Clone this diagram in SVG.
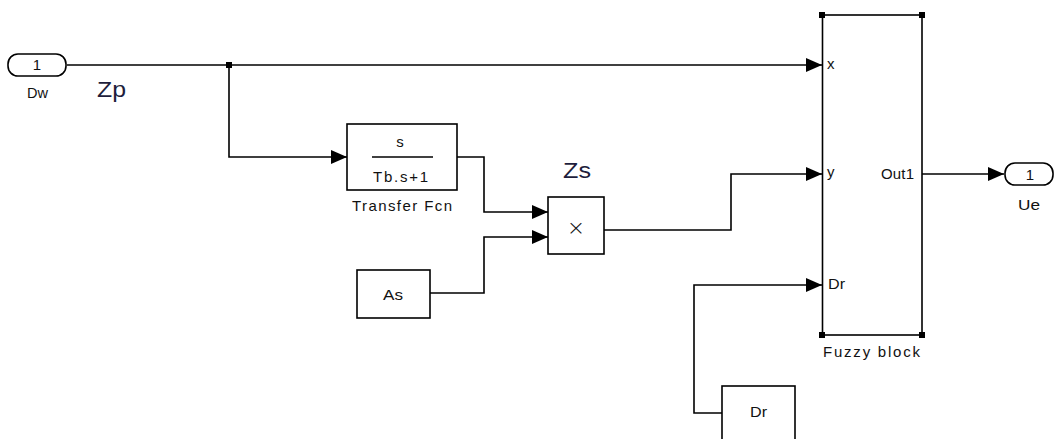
<svg xmlns="http://www.w3.org/2000/svg" width="1055" height="439" viewBox="0 0 1055 439">
<style>
.blk{fill:#fff;stroke:#000;stroke-width:1.6}
.ln{fill:none;stroke:#000;stroke-width:1.6}
.t{font-family:"Liberation Sans",Arial,sans-serif;font-size:15px;fill:#111}
.big{font-family:"Liberation Sans",Arial,sans-serif;font-size:22px;fill:#1e1e3c}
.h{fill:#000}
</style>
<defs>
<marker id="ah" markerUnits="userSpaceOnUse" markerWidth="16" markerHeight="14" viewBox="0 0 16 14" refX="16" refY="7" orient="auto">
<path d="M0,0 L16,7 L0,14 Z" fill="#000"/>
</marker>
</defs>
<rect width="1055" height="439" fill="#fff"/>
<g id="connectors">
<path class="ln" d="M67,65 H822" marker-end="url(#ah)"/>
<path class="ln" d="M229,65 V157 H347" marker-end="url(#ah)"/>
<rect class="h" x="226" y="62" width="6" height="6"/>
<path class="ln" d="M457,157 H484 V212 H548" marker-end="url(#ah)"/>
<path class="ln" d="M430,293 H484 V237 H548" marker-end="url(#ah)"/>
<path class="ln" d="M604,230 H731 V174 H822" marker-end="url(#ah)"/>
<path class="ln" d="M722,413 H694 V285 H822" marker-end="url(#ah)"/>
<path class="ln" d="M922,174 H1004" marker-end="url(#ah)"/>
</g>
<g id="Dw">
<rect class="blk" x="8" y="54" width="58" height="22" rx="10" ry="10"/>
<text class="t" x="37" y="70" text-anchor="middle">1</text>
<text class="t" x="27" y="98" textLength="21" lengthAdjust="spacingAndGlyphs">Dw</text>
</g>
<g id="Zp">
<text class="big" x="97" y="97" textLength="29" lengthAdjust="spacingAndGlyphs">Zp</text>
</g>
<g id="TransferFcn">
<rect class="blk" x="347" y="124" width="110" height="66"/>
<text class="t" x="400" y="147" text-anchor="middle">s</text>
<line class="ln" x1="372" y1="157" x2="433" y2="157"/>
<text class="t" x="373" y="182" textLength="55" lengthAdjust="spacing">Tb.s+1</text>
<text class="t" x="352" y="211" textLength="100" lengthAdjust="spacing">Transfer Fcn</text>
</g>
<g id="Zs">
<text class="big" x="563" y="178" textLength="28" lengthAdjust="spacingAndGlyphs">Zs</text>
</g>
<g id="Product">
<rect class="blk" x="548" y="197" width="56" height="57"/>
<text x="576" y="235" text-anchor="middle" style="font-family:'DejaVu Sans',sans-serif;font-size:22px;font-weight:200;fill:#111">×</text>
</g>
<g id="As">
<rect class="blk" x="357" y="270" width="73" height="48"/>
<text class="t" x="383" y="300" textLength="20" lengthAdjust="spacingAndGlyphs">As</text>
</g>
<g id="FuzzyBlock">
<rect class="blk" x="822.5" y="15" width="99.5" height="320"/>
<rect class="h" x="819" y="12" width="6" height="6"/>
<rect class="h" x="919" y="12" width="6" height="6"/>
<rect class="h" x="819" y="332" width="6" height="6"/>
<rect class="h" x="919" y="332" width="6" height="6"/>
<text class="t" x="827" y="69">x</text>
<text class="t" x="827" y="177">y</text>
<text class="t" x="828" y="289" textLength="17" lengthAdjust="spacingAndGlyphs">Dr</text>
<text class="t" x="881" y="179" textLength="33" lengthAdjust="spacing">Out1</text>
<text class="t" x="823" y="357" textLength="97" lengthAdjust="spacing">Fuzzy block</text>
</g>
<g id="Ue">
<rect class="blk" x="1005" y="163" width="48" height="22" rx="10" ry="10"/>
<text class="t" x="1030" y="180" text-anchor="middle">1</text>
<text class="t" x="1018" y="210" textLength="22" lengthAdjust="spacingAndGlyphs">Ue</text>
</g>
<g id="Dr">
<rect class="blk" x="722" y="386" width="73" height="70"/>
<text class="t" x="750" y="417" textLength="17" lengthAdjust="spacingAndGlyphs">Dr</text>
</g>
</svg>
